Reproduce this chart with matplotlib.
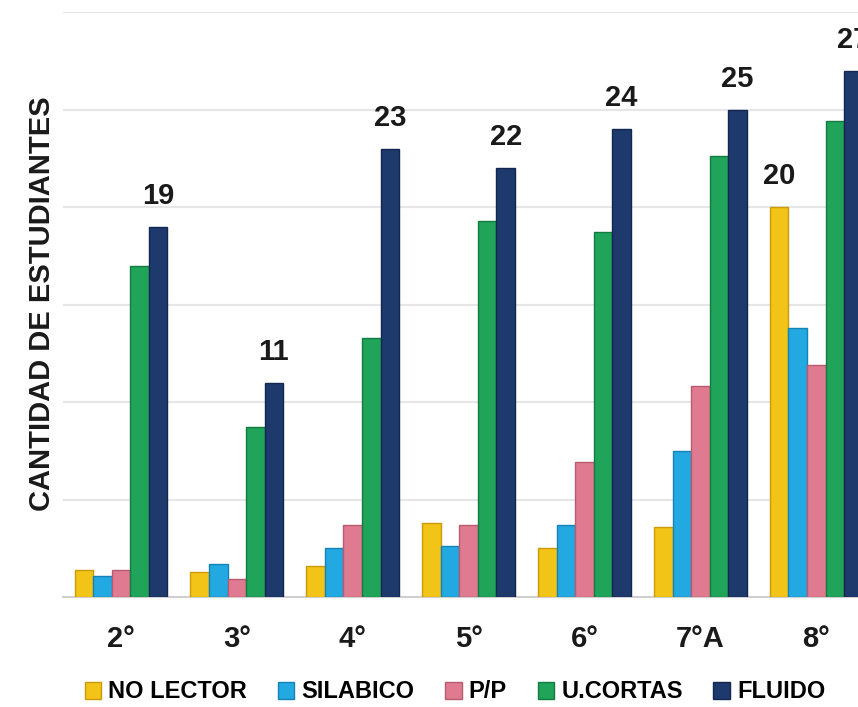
import matplotlib
matplotlib.use("Agg")
import matplotlib.pyplot as plt
import numpy as np
from matplotlib.patches import Patch

plt.rcParams['font.family'] = ['Liberation Sans', 'DejaVu Sans']

categories = ["2°", "3°", "4°", "5°", "6°", "7°A", "8°"]
series_names = ["NO LECTOR", "SILABICO", "P/P", "U.CORTAS", "FLUIDO"]
no_lector = [1.4, 1.3, 1.6, 3.8, 2.5, 3.6, 20]
silabico = [1.1, 1.7, 2.5, 2.6, 3.7, 7.5, 13.8]
pp = [1.4, 0.9, 3.7, 3.7, 6.9, 10.8, 11.9]
u_cortas = [17, 8.7, 13.3, 19.3, 18.7, 22.6, 24.4]
fluido = [19, 11, 23, 22, 24, 25, 27]
labels_fluido = ["19", "11", "23", "22", "24", "25", "27"]

colors = ["#F2C417", "#22A9E1", "#E07A90", "#1FA45A", "#1E3A6C"]
edges = ["#C99A0A", "#1583B5", "#B85A70", "#137A40", "#122650"]

data = [no_lector, silabico, pp, u_cortas, fluido]

fig = plt.figure(figsize=(8.58, 7.07), dpi=100)
ax = fig.add_axes([63 / 858, 110 / 707, 795 / 858, 585 / 707])

x = np.arange(len(categories))
w = 0.16
bars = []
for i, (vals, c, e) in enumerate(zip(data, colors, edges)):
    b = ax.bar(x + (i - 2) * w, vals, width=w, color=c, edgecolor=e, linewidth=1.0, zorder=3)
    bars.append(b)

# value labels on FLUIDO
for rect, lab in zip(bars[4], labels_fluido):
    ax.annotate(lab, (rect.get_x() + rect.get_width() / 2, rect.get_height()),
                xytext=(0, 12), textcoords="offset points", ha="center", va="bottom",
                fontsize=21, fontweight="bold", color="#1a1a1a", annotation_clip=False)
# label on 8° NO LECTOR
r = bars[0][6]
ax.annotate("20", (r.get_x() + r.get_width() / 2, r.get_height()),
            xytext=(0, 12), textcoords="offset points", ha="center", va="bottom",
            fontsize=21, fontweight="bold", color="#1a1a1a")

ax.set_xlim(-0.5, 6.36)
ax.set_ylim(0, 30)
ax.set_yticks([5, 10, 15, 20, 25, 30])
ax.set_yticklabels([])
ax.yaxis.grid(True, color="#e6e6e6", linewidth=1.5, zorder=0)
ax.tick_params(axis="y", length=0)
ax.set_xticks(x)
ax.set_xticklabels(categories, fontsize=21, fontweight="bold", color="#1a1a1a")
ax.tick_params(axis="x", length=0, pad=20)
for s in ["top", "right", "left"]:
    ax.spines[s].set_visible(False)
ax.spines["bottom"].set_color("#d0d0d0")
ax.spines["bottom"].set_linewidth(1.5)

fig.text(42 / 858, 1 - 304 / 707, "CANTIDAD DE ESTUDIANTES", rotation=90,
         ha="center", va="center", fontsize=21, fontweight="bold", color="#1a1a1a")

handles = [Patch(facecolor=c, edgecolor=e) for c, e in zip(colors, edges)]
fig.legend(handles, series_names, loc="center", bbox_to_anchor=(455 / 858, 15 / 707),
           ncol=5, frameon=False, handlelength=0.7, handleheight=0.7,
           handletextpad=0.3, columnspacing=1.3,
           prop={"size": 17, "weight": "bold"})

fig.savefig("out.png", dpi=100)
